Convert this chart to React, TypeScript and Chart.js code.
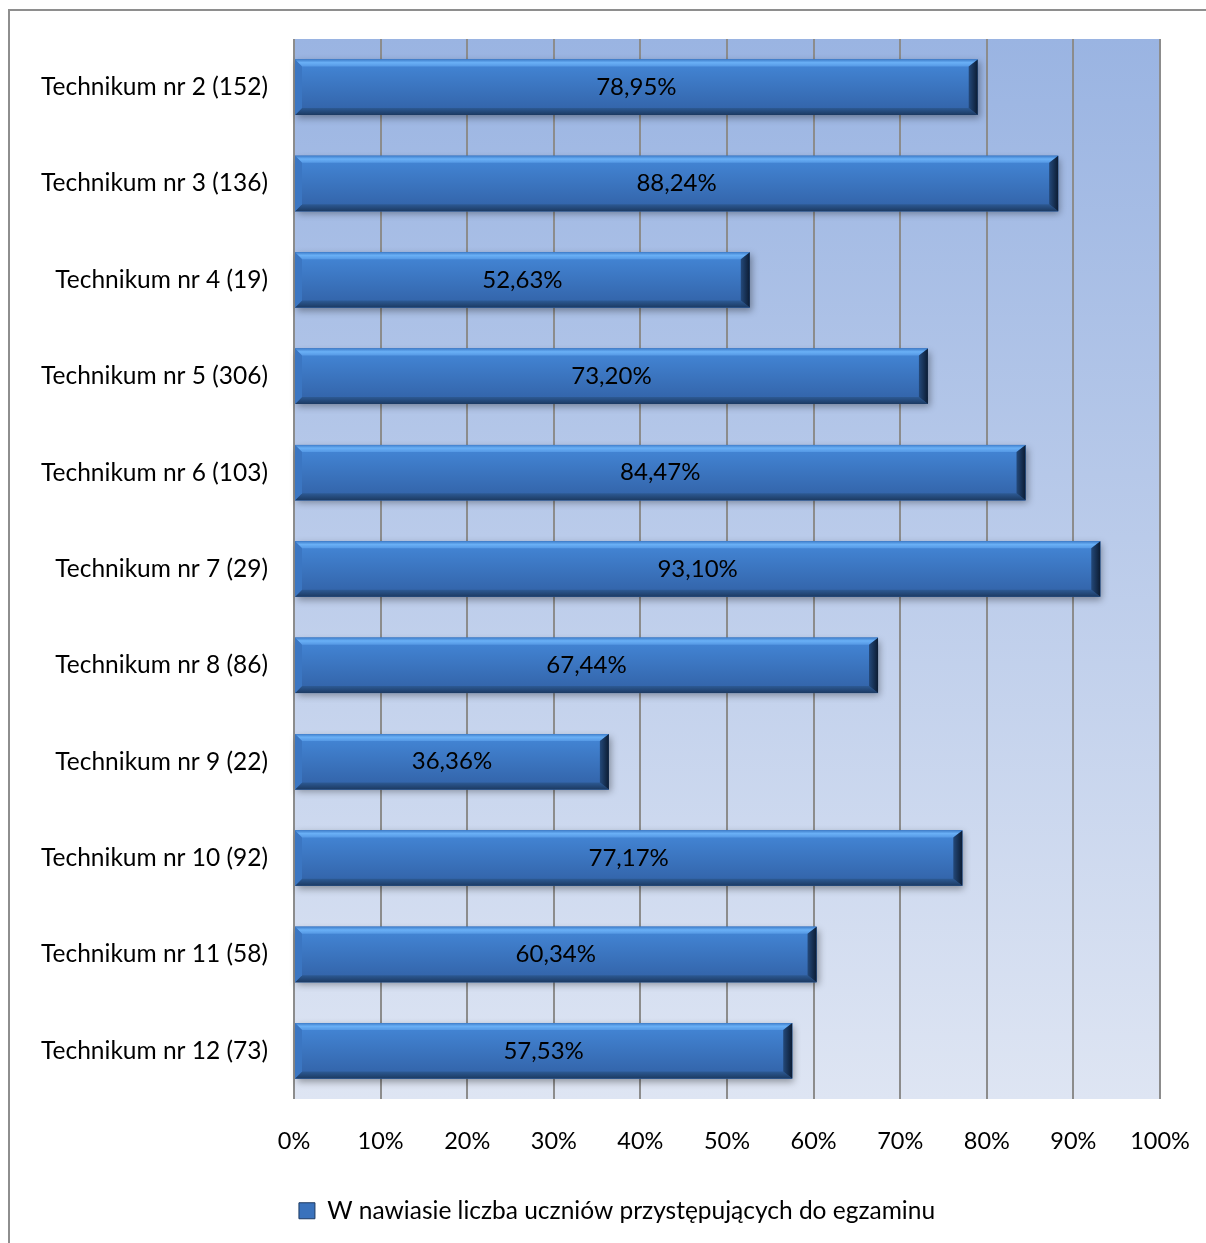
import { useEffect, useRef } from "react";
import { Chart, registerables } from "chart.js";

Chart.register(...registerables);

const categories = [
  "Technikum nr 2 (152)",
  "Technikum nr 3 (136)",
  "Technikum nr 4 (19)",
  "Technikum nr 5 (306)",
  "Technikum nr 6 (103)",
  "Technikum nr 7 (29)",
  "Technikum nr 8 (86)",
  "Technikum nr 9 (22)",
  "Technikum nr 10 (92)",
  "Technikum nr 11 (58)",
  "Technikum nr 12 (73)",
];
const values = [78.95, 88.24, 52.63, 73.2, 84.47, 93.1, 67.44, 36.36, 77.17, 60.34, 57.53];
const axisMin = 0;
const axisMax = 100;
const axisStep = 10;
const legendLabel = "W nawiasie liczba uczniów przystępujących do egzaminu";

const FONT_FAMILY = "Lato, 'Open Sans', sans-serif";
const LABEL_FONT = { family: FONT_FAMILY, size: 24.5, lineHeight: 1 };
const LEGEND_FONT = { family: FONT_FAMILY, size: 24.5 };
const TICK_FONT = { family: FONT_FAMILY, size: 23.5, lineHeight: "64px" };
const VALUE_FONT_SIZE = 24;

const fmt = (v: number) => v.toFixed(2).replace(".", ",") + "%";

const bgPlugin = {
  id: "bgFrame",
  afterLayout(chart: any) {
    const lg = chart.legend;
    if (lg) {
      lg.left += 74;
      if (typeof lg.adjustHitBoxes === "function") lg.adjustHitBoxes();
    }
  },
  beforeDraw(chart: any) {
    const { ctx, chartArea, width, height } = chart;
    ctx.save();
    ctx.fillStyle = "#ffffff";
    ctx.fillRect(0, 0, width, height);
    const g = ctx.createLinearGradient(0, chartArea.top, 0, chartArea.bottom);
    g.addColorStop(0, "#9AB4E2");
    g.addColorStop(1, "#DEE5F3");
    ctx.fillStyle = g;
    ctx.fillRect(chartArea.left, chartArea.top, chartArea.right - chartArea.left, chartArea.bottom - chartArea.top);
    ctx.strokeStyle = "#8E8E8E";
    ctx.lineWidth = 2;
    ctx.beginPath();
    ctx.moveTo(9, height);
    ctx.lineTo(9, 10);
    ctx.lineTo(width, 10);
    ctx.stroke();
    ctx.restore();
  },
};

const poly = (ctx: CanvasRenderingContext2D, pts: number[][], fill: any) => {
  ctx.beginPath();
  ctx.moveTo(pts[0][0], pts[0][1]);
  for (let i = 1; i < pts.length; i++) ctx.lineTo(pts[i][0], pts[i][1]);
  ctx.closePath();
  ctx.fillStyle = fill;
  ctx.fill();
};

const barPlugin = {
  id: "bevelBars",
  afterDatasetsDraw(chart: any) {
    const { ctx } = chart;
    const meta = chart.getDatasetMeta(0);
    meta.data.forEach((el: any, i: number) => {
      const p = el.getProps(["x", "y", "base", "height"], true);
      const left = Math.min(p.base, p.x);
      const right = Math.max(p.base, p.x);
      const top = p.y - p.height / 2;
      const bottom = p.y + p.height / 2;
      const w = right - left;
      const h = bottom - top;
      const b = 7;
      const br = 9;
      ctx.save();
      ctx.shadowColor = "rgba(0,0,0,0.35)";
      ctx.shadowBlur = 7;
      ctx.shadowOffsetX = 2;
      ctx.shadowOffsetY = 3;
      ctx.fillStyle = "#3A72BC";
      ctx.fillRect(left, top, w, h);
      ctx.restore();
      ctx.save();
      const fg = ctx.createLinearGradient(0, top + b, 0, bottom - b);
      fg.addColorStop(0, "#4283D2");
      fg.addColorStop(1, "#3466AC");
      ctx.fillStyle = fg;
      ctx.fillRect(left, top, w, h);
      const tg = ctx.createLinearGradient(0, top, 0, top + b);
      tg.addColorStop(0, "#3F7ECB");
      tg.addColorStop(0.45, "#6AB0F6");
      tg.addColorStop(1, "#5598E4");
      poly(ctx, [[left, top], [right, top], [right - br, top + b], [left + b, top + b]], tg);
      const bg = ctx.createLinearGradient(0, bottom - b, 0, bottom);
      bg.addColorStop(0, "#2D5A94");
      bg.addColorStop(1, "#1C3A62");
      poly(ctx, [[left, bottom], [right, bottom], [right - br, bottom - b], [left + b, bottom - b]], bg);
      poly(ctx, [[left, top], [left + b, top + b], [left + b, bottom - b], [left, bottom]], "#3B76C2");
      const rg = ctx.createLinearGradient(right - br, 0, right, 0);
      rg.addColorStop(0, "#24497A");
      rg.addColorStop(1, "#0C1C33");
      poly(ctx, [[right, top], [right, bottom], [right - br, bottom - b], [right - br, top + b]], rg);
      ctx.fillStyle = "#000000";
      ctx.font = `${VALUE_FONT_SIZE}px ${FONT_FAMILY}`;
      ctx.textAlign = "center";
      ctx.textBaseline = "middle";
      ctx.fillText(fmt(values[i]), (left + right) / 2, p.y);
      ctx.restore();
    });
  },
};

export default function App() {
  const ref = useRef<HTMLCanvasElement | null>(null);
  useEffect(() => {
    const canvas = ref.current!;
    const chart = new Chart(canvas, {
      type: "bar",
      data: {
        labels: categories,
        datasets: [
          {
            label: legendLabel,
            data: values,
            backgroundColor: "#3A72BC",
            borderWidth: 0,
            categoryPercentage: 1,
            barPercentage: 0.575,
          },
        ],
      },
      options: {
        indexAxis: "y",
        responsive: false,
        animation: false,
        devicePixelRatio: 1,
        layout: { padding: { left: 0, right: 46, top: 39, bottom: 10 } },
        scales: {
          x: {
            min: axisMin,
            max: axisMax,
            ticks: {
              stepSize: axisStep,
              callback: (v: any) => v + "%",
              color: "#000000",
              font: TICK_FONT,
              padding: 10,
              maxRotation: 0,
            },
            grid: { color: "#8C8C8C", lineWidth: 2, drawTicks: false },
            border: { display: false },
            afterFit: (s: any) => {
              s.height = 89.5;
            },
          },
          y: {
            ticks: { color: "#000000", font: LABEL_FONT, padding: 26 },
            grid: { display: false, drawTicks: false },
            border: { display: false },
            afterFit: (s: any) => {
              s.width = 294;
            },
          },
        },
        plugins: {
          legend: {
            position: "bottom",
            labels: {
              boxWidth: 16,
              boxHeight: 16,
              padding: 10,
              color: "#000000",
              font: LEGEND_FONT,
              generateLabels: () => [
                {
                  text: legendLabel,
                  fillStyle: "#3A72BC",
                  strokeStyle: "#1C3A62",
                  lineWidth: 1,
                  hidden: false,
                  datasetIndex: 0,
                  fontColor: "#000000",
                },
              ],
            },
          },
          tooltip: { enabled: false },
        },
      } as any,
      plugins: [bgPlugin, barPlugin],
    });
    return () => chart.destroy();
  }, []);
  return (
    <div style={{ position: "absolute", left: 0, top: 0, width: 1206, height: 1243 }}>
      <canvas ref={ref} width={1206} height={1243} style={{ display: "block" }} />
    </div>
  );
}
